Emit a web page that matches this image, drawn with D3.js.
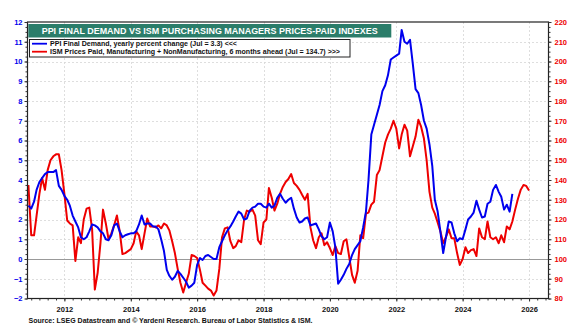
<!DOCTYPE html>
<html>
<head>
<meta charset="utf-8">
<script src="https://cdn.jsdelivr.net/npm/d3@7"></script>
<style>
  body { margin: 0; background: #fff; }
  svg { display: block; }
  text { font-family: "Liberation Sans", Arial, sans-serif; font-weight: bold; }
</style>
</head>
<body>
<svg id="chart" width="575" height="327"></svg>
<script>
// PPI final demand, yearly percent change (monthly, from Dec 2010)
const ppiStart = new Date(2010, 11, 1);
const ppiValues = [
  2.7, 2.55, 2.9, 3.5, 3.9, 4.1, 4.3, 4.4, 4.4, 4.4, 4.5, 3.7,
  3.5, 3.2, 3.0, 2.7, 2.2, 1.9, 1.6, 1.1, 1.0, 1.1, 1.4, 1.75,
  1.7, 1.6, 1.4, 1.3, 1.0, 0.95, 1.2, 1.7, 1.8, 1.4, 1.1, 1.2,
  1.25, 1.3, 1.3, 1.4, 1.75, 2.2, 1.75, 1.8, 1.8, 1.65, 1.65, 1.5,
  1.0, 0.4, -0.55, -0.85, -1.05, -0.9, -0.6, -0.75, -0.95, -1.15, -1.45, -1.35,
  -1.2, -0.3, 0.05, -0.05, 0.15, 0.2, 0.1, 0.0, 0.0, 0.6, 0.9, 1.2,
  1.45, 1.65, 1.9, 2.15, 2.4, 2.3, 2.0, 2.05, 2.45, 2.6, 2.65, 2.8,
  2.8, 2.65, 2.6, 2.8, 2.6, 2.7, 3.1, 3.3, 3.05, 2.85, 3.0, 3.1,
  2.55, 2.1, 1.85, 1.9, 2.05, 2.1, 1.7, 1.75, 1.8, 1.5, 1.15, 1.0,
  1.1, 1.85, 1.4, 0.6, -1.25, -1.05, -0.8, -0.5, -0.25, 0.2, 0.5, 0.7,
  0.9, 1.6, 2.4, 4.0, 6.3, 6.8, 7.3, 7.8, 8.5, 8.8, 9.3, 10.1,
  10.2, 10.3, 10.4, 11.6, 11.0, 10.9, 11.1, 9.9, 8.6, 8.4, 7.8, 7.0,
  6.6, 5.8, 4.7, 3.0, 2.4, 1.4, 0.3, 1.1, 1.9, 1.85, 1.3, 0.9,
  1.05, 1.0, 1.5, 2.0, 2.15, 2.35, 2.95, 2.5, 2.1, 2.15, 2.8, 2.9,
  3.5, 3.75, 3.4, 3.15, 2.5, 2.75, 2.4, 3.3
];

// ISM prices paid, manufacturing + non-manufacturing, plotted 6 months ahead (from Dec 2010)
const ismStart = new Date(2010, 11, 1);
const ismValues = [
  137.5, 112, 112, 122, 133, 141, 135, 145, 150, 152, 153, 153,
  145, 133, 119.5, 118, 117, 99, 111, 108, 120, 125.5, 126, 115,
  84.5, 93, 108, 125, 118, 110, 113, 117, 122, 114, 102.5, 103,
  104, 105, 108, 114, 112, 105, 113, 120.5, 116.5, 116.5, 116, 117,
  115.5, 118, 117, 114.5, 109, 103, 95, 88, 83, 88, 92.5, 102,
  101.5, 100.5, 94.5, 88, 86.5, 85, 84, 81.5, 84, 95, 111, 115.5,
  116, 109, 105.5, 106.5, 109.5, 108.5, 120, 124.5, 124, 125, 122, 109.5,
  107.5, 118.5, 120, 136, 131, 124.5, 128, 133, 136.5, 139, 140.5, 143,
  138.5, 137, 135, 132.5, 130, 133, 116, 109.5, 105.5, 111, 113, 107,
  108.5, 105.5, 102, 106.5, 103, 102.5, 109, 110, 101, 92, 88, 94,
  112, 110.5, 123, 123.5, 127.5, 129, 142.5, 145, 152, 159, 163, 166,
  170, 166, 156, 163, 168, 165, 152, 157, 162, 170.5, 167, 161,
  150, 134, 126, 123, 118.5, 114, 108, 111, 115, 110.5, 110.5, 103,
  97, 100, 106, 103, 104.5, 105, 101.5, 115.5, 111, 110, 119, 111,
  110, 111, 108, 112, 108.5, 116.5, 115, 119, 125, 130.5, 135, 137.5,
  137, 134.7
];

const leftTicks = d3.range(-2, 13, 1);
const rightTicks = d3.range(80, 221, 10);
const yearTicks = d3.range(2012, 2027, 2);

const titleText = "PPI FINAL DEMAND VS ISM PURCHASING MANAGERS PRICES-PAID INDEXES";
const legendLabels = [
  "PPI Final Demand, yearly percent change  (Jul = 3.3) <<<",
  "ISM Prices Paid, Manufacturing + NonManufacturing,  6 months ahead (Jul = 134.7) >>>"
];
const sourceText = "Source: LSEG Datastream and \u00A9 Yardeni Research. Bureau of Labor Statistics & ISM.";

const BLUE = "#0000ee", RED = "#ee0000";
const plot = { left: 27.5, right: 548.5, top: 22, bottom: 298.5 };

const svg = d3.select("#chart");

const x = d3.scaleTime()
  .domain([new Date(2010, 10, 21), new Date(2026, 7, 3)])
  .range([plot.left, plot.right]);
const yL = d3.scaleLinear().domain([-2, 12]).range([plot.bottom, plot.top]);
const yR = d3.scaleLinear().domain([80, 220]).range([plot.bottom, plot.top]);

const ppi = ppiValues.map((v, i) => ({ date: d3.timeMonth.offset(ppiStart, i), v }));
const ism = ismValues.map((v, i) => ({ date: d3.timeMonth.offset(ismStart, i), v }));

// grid
const grid = svg.append("g").attr("stroke", "#d6d6d6").attr("stroke-width", 0.8)
  .attr("stroke-dasharray", "2,2").attr("shape-rendering", "crispEdges");
grid.selectAll("line.h").data(leftTicks.filter(t => t > -2 && t < 12 && t !== 0)).join("line")
  .attr("x1", plot.left).attr("x2", plot.right)
  .attr("y1", d => Math.round(yL(d)) + 0.5).attr("y2", d => Math.round(yL(d)) + 0.5);
grid.selectAll("line.v").data(yearTicks).join("line")
  .attr("x1", d => Math.round(x(new Date(d, 0, 1))) + 0.5).attr("x2", d => Math.round(x(new Date(d, 0, 1))) + 0.5)
  .attr("y1", plot.top).attr("y2", plot.bottom);

// zero line
svg.append("line")
  .attr("x1", plot.left).attr("x2", plot.right)
  .attr("y1", Math.round(yL(0)) + 0.5).attr("y2", Math.round(yL(0)) + 0.5)
  .attr("stroke", "#999").attr("stroke-width", 1);

// series
svg.append("path").datum(ism)
  .attr("fill", "none").attr("stroke", RED).attr("stroke-width", 2).attr("stroke-linejoin", "round")
  .attr("d", d3.line().x(d => x(d.date)).y(d => yR(d.v)));
svg.append("path").datum(ppi)
  .attr("fill", "none").attr("stroke", BLUE).attr("stroke-width", 2).attr("stroke-linejoin", "round")
  .attr("d", d3.line().x(d => x(d.date)).y(d => yL(d.v)));

// frame
svg.append("rect")
  .attr("x", plot.left).attr("y", plot.top)
  .attr("width", plot.right - plot.left).attr("height", plot.bottom - plot.top)
  .attr("fill", "none").attr("stroke", "#222").attr("stroke-width", 1.2);

// axes
function styleAxis(g) { g.select(".domain").remove(); g.selectAll("line").attr("stroke", "#333"); }

svg.append("g").attr("transform", `translate(${plot.left},0)`)
  .call(d3.axisLeft(yL).tickValues(d3.range(-2, 12.01, 0.25)).tickSize(2).tickFormat(""))
  .call(styleAxis);
svg.append("g").attr("transform", `translate(${plot.left},0)`)
  .call(d3.axisLeft(yL).tickValues(leftTicks).tickSize(3).tickPadding(2).tickFormat(d3.format("d")))
  .call(styleAxis)
  .call(g => g.selectAll("text").attr("fill", BLUE).attr("font-size", 7.5).attr("font-family", null));

svg.append("g").attr("transform", `translate(${plot.right},0)`)
  .call(d3.axisRight(yR).tickValues(d3.range(80, 220.1, 2.5)).tickSize(2).tickFormat(""))
  .call(styleAxis);
svg.append("g").attr("transform", `translate(${plot.right},0)`)
  .call(d3.axisRight(yR).tickValues(rightTicks).tickSize(3).tickPadding(3).tickFormat(d3.format("d")))
  .call(styleAxis)
  .call(g => g.selectAll("text").attr("fill", RED).attr("font-size", 7.5).attr("font-family", null));

svg.append("g").attr("transform", `translate(0,${plot.bottom})`)
  .call(d3.axisBottom(x).ticks(d3.timeMonth.every(3)).tickSize(2).tickFormat(""))
  .call(styleAxis);
svg.append("g").attr("transform", `translate(0,${plot.bottom})`)
  .call(d3.axisBottom(x).tickValues(yearTicks.map(y => new Date(y, 0, 1))).tickSize(3).tickPadding(5)
    .tickFormat(d3.timeFormat("%Y")))
  .call(styleAxis)
  .call(g => g.selectAll("text").attr("fill", "#111").attr("font-size", 7.5).attr("font-family", null));

// title banner
svg.append("rect").attr("x", 28.3).attr("y", 24).attr("width", 363).attr("height", 13.5).attr("fill", "#2b7d6a");
svg.append("text").attr("x", 41.7).attr("y", 34.2).attr("fill", "#fff").attr("font-size", 9.5)
  .attr("textLength", 336).attr("lengthAdjust", "spacingAndGlyphs").text(titleText);

// legend
const lg = svg.append("g");
lg.append("rect").attr("x", 29.5).attr("y", 39.5).attr("width", 320.5).attr("height", 17.5)
  .attr("fill", "#fff").attr("stroke", "#222").attr("stroke-width", 1);
const legendColors = [BLUE, RED];
const legendY = [43.7, 51.7];
const legendLen = [187, 290];
legendLabels.forEach((t, i) => {
  lg.append("line").attr("x1", 32).attr("x2", 47).attr("y1", legendY[i]).attr("y2", legendY[i])
    .attr("stroke", legendColors[i]).attr("stroke-width", 1.8);
  lg.append("text").attr("x", 50).attr("y", legendY[i] + 2.6).attr("font-size", 7.3).attr("fill", "#111")
    .attr("textLength", legendLen[i]).attr("lengthAdjust", "spacingAndGlyphs").text(t);
});

// source
svg.append("text").attr("x", 28.5).attr("y", 322.5).attr("font-size", 7.3).attr("fill", "#111")
  .attr("textLength", 284).attr("lengthAdjust", "spacingAndGlyphs").text(sourceText);
</script>
</body>
</html>
